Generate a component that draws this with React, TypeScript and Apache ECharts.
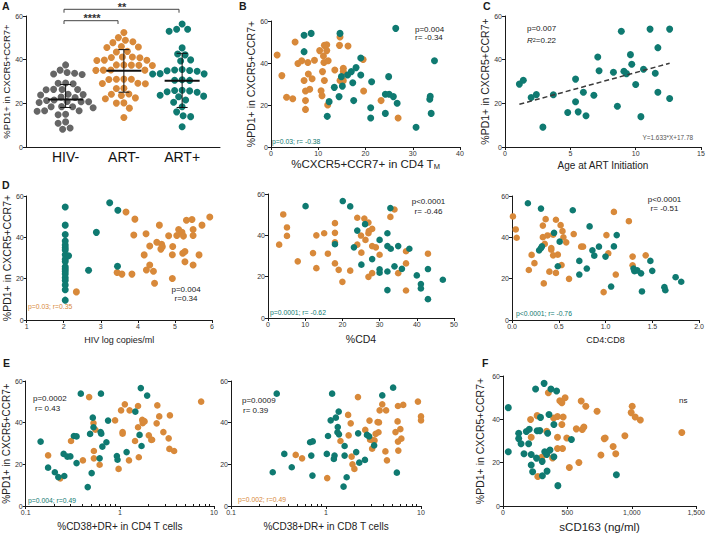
import React, { useEffect, useRef } from 'react';
import * as echarts from 'echarts';

const FONT = '"Liberation Sans", Arial, Helvetica, sans-serif';
const ORANGE = '#D8893A';
const TEAL = '#0F7A71';
const GRAY = '#666666';
const INK = '#1a1a1a';

// ---------- Panel A ----------
const groupLabels = ['HIV-', 'ART-', 'ART+'];
const hivNeg = [37.6, 35.2, 34.1, 33.4, 33.2, 33.8, 29.2, 29.0, 29.3, 26.3, 26.2, 26.4, 26.3, 24.0, 24.2, 23.8, 22.7, 22.9, 21.5, 20.7, 20.7, 20.4, 20.8, 21.3, 18.4, 18.5, 18.4, 18.0, 16.6, 16.6, 16.4, 15.0, 14.8, 10.9, 11.5, 8.1, 8.7];
const artNeg = [52.4, 50.1, 48.9, 48.2, 47.8, 45.8, 45.6, 46.0, 43.8, 43.5, 41.2, 40.9, 41.0, 41.2, 39.7, 39.8, 39.6, 37.6, 37.4, 37.5, 37.3, 37.6, 35.2, 35.3, 35.1, 35.2, 31.0, 31.1, 30.9, 31.0, 29.1, 29.2, 29.0, 26.9, 26.8, 24.3, 24.2, 23.6, 22.5, 22.1, 20.1, 20.2, 17.8, 13.5];
const artPos = [56.3, 53.9, 53.0, 53.9, 45.4, 42.6, 42.2, 39.9, 39.4, 35.5, 34.7, 35.3, 34.9, 35.0, 33.5, 33.4, 33.6, 30.5, 30.6, 30.8, 25.3, 25.1, 25.9, 25.7, 26.0, 23.3, 23.0, 23.7, 21.5, 20.5, 18.4, 16.1, 14.3, 13.9, 9.3];
// median, low, high
const groupStats = [[21.8, 18.1, 28.6], [34.9, 25.1, 44.6], [30.4, 18.1, 42.9]];

// ---------- Panel B ----------
const bOrange = [[1.3,43.8],[2.3,34.0],[3.3,23.7],[4.6,23.0],[5.1,50.0],[5.7,39.8],[6.5,41.1],[7.0,31.7],[7.3,26.7],[7.3,22.1],[7.3,17.9],[7.8,40.2],[7.9,34.8],[8.2,27.5],[8.7,32.5],[9.2,41.3],[10.3,45.9],[10.6,26.8],[10.8,24.4],[10.9,35.9],[11.1,43.3],[11.2,40.2],[11.3,31.7],[11.3,48.4],[11.8,48.7],[11.8,45.9],[12.0,20.0],[12.1,41.1],[13.5,36.7],[14.5,48.4],[14.6,52.4],[14.6,31.7],[15.1,31.6],[15.3,37.5],[15.3,35.9],[15.3,31.6],[16.3,48.1],[19.5,41.7],[19.6,26.7],[23.3,22.1],[26.9,13.8]];
const bTeal = [[7.0,53.2],[7.0,45.4],[8.5,54.1],[11.9,14.6],[12.3,21.6],[13.4,28.4],[14.4,24.0],[14.6,54.1],[14.9,33.5],[15.1,29.0],[16.2,34.3],[17.0,35.9],[17.3,30.6],[17.5,22.1],[18.0,37.8],[19.0,42.4],[19.0,34.3],[21.3,31.1],[21.1,18.7],[21.1,13.8],[24.2,16.0],[24.2,25.1],[25.0,25.1],[24.9,33.5],[25.9,24.0],[26.4,56.5],[26.7,20.8],[30.7,9.4],[33.6,22.7],[33.7,24.1],[33.9,16.0],[34.6,41.1]];

// ---------- Panel C ----------
const cTeal = [[1.1,28.8],[1.4,30.6],[2.0,22.7],[2.4,24.0],[2.9,9.1],[3.7,23.9],[4.8,15.8],[5.4,31.1],[5.4,20.7],[5.6,16.1],[6.0,25.1],[6.2,14.3],[6.8,23.7],[7.1,41.2],[7.2,34.9],[8.3,34.2],[8.6,18.7],[8.9,53.0],[9.1,34.7],[9.3,33.6],[9.6,42.3],[9.7,37.9],[10.0,28.6],[10.4,13.9],[10.6,35.6],[11.1,54.0],[11.5,33.8],[11.7,45.5],[11.7,25.1],[12.6,54.0],[12.6,22.2]];
const cFitSlope = 1.633;
const cFitIntercept = 17.78;
const cFitRange = [1.1, 12.6];

// ---------- Panel D ----------
const d1Teal = [[2.04,54.7],[2.04,45.9],[2.04,41.4],[2.04,38.2],[2.04,36.3],[2.04,35.0],[2.04,33.9],[2.04,31.6],[2.04,29.4],[2.04,28.3],[2.04,25.8],[2.04,24.7],[2.04,23.6],[2.04,22.3],[2.04,20.4],[2.04,19.1],[2.04,16.9],[2.04,14.6],[2.04,9.6],[2.13,31.1],[2.67,24.1],[2.88,42.4],[3.24,56.7],[3.46,53.1],[3.45,26.0]];
const d1Orange = [[2.34,13.6],[3.44,23.0],[3.57,22.2],[3.68,52.3],[3.84,22.2],[3.89,41.1],[3.92,48.8],[4.17,31.5],[4.22,41.7],[4.23,24.2],[4.32,26.6],[4.32,35.8],[4.42,23.6],[4.45,17.8],[4.51,37.6],[4.58,45.9],[4.62,34.3],[4.64,36.6],[4.66,35.5],[4.83,40.8],[4.94,35.6],[4.93,31.6],[4.93,20.1],[5.05,40.9],[5.10,43.8],[5.19,42.4],[5.23,40.6],[5.21,32.3],[5.27,33.1],[5.27,28.2],[5.31,48.3],[5.46,48.6],[5.49,43.8],[5.49,40.9],[5.49,26.6],[5.73,45.9],[5.65,31.5],[5.94,49.8]];
const d2Orange = [[3.0,35.5],[4.1,50.1],[5.1,43.8],[5.1,39.7],[8.0,27.4],[12.1,31.4],[13.0,40.0],[13.0,24.1],[15.1,41.0],[16.1,31.1],[18.0,45.9],[18.0,41.2],[18.0,36.6],[18.0,26.4],[19.0,23.3],[20.0,17.5],[22.1,22.9],[24.0,48.5],[24.0,35.5],[25.0,39.9],[25.1,31.6],[25.9,48.1],[26.2,37.8],[27.0,46.2],[27.0,41.0],[27.0,19.9],[27.1,42.1],[28.0,43.1],[28.0,34.8],[28.0,21.7],[29.0,34.2],[30.0,30.6],[32.9,48.9],[34.0,52.5],[35.0,21.7],[37.1,32.3],[37.1,26.4],[37.1,13.3],[43.0,31.1]];
const d2Teal = [[10.1,54.1],[18.0,35.7],[20.1,56.6],[22.1,54.0],[23.1,34.2],[24.0,42.3],[25.1,25.8],[26.1,45.4],[28.0,28.5],[30.0,37.8],[30.0,23.5],[30.0,21.9],[32.1,41.0],[32.1,34.8],[32.1,13.5],[32.1,22.5],[32.9,53.2],[33.0,33.5],[34.0,25.0],[35.0,34.8],[36.0,23.8],[38.0,33.5],[40.0,20.6],[41.1,16.4],[41.1,14.3],[43.0,23.7],[43.0,9.1],[47.0,18.5]];
const d3Orange = [[0.01,50.1],[0.04,43.8],[0.05,39.8],[0.18,24.2],[0.21,31.5],[0.24,27.5],[0.33,45.7],[0.33,40.1],[0.34,17.7],[0.35,36.8],[0.36,48.8],[0.38,40.9],[0.40,23.4],[0.42,34.8],[0.42,34.0],[0.44,41.3],[0.44,31.3],[0.47,48.5],[0.47,22.8],[0.49,31.6],[0.52,45.9],[0.53,26.6],[0.54,43.0],[0.55,40.0],[0.58,37.6],[0.61,19.9],[0.66,41.6],[0.74,35.5],[0.76,35.5],[0.98,13.5],[1.01,41.1],[1.03,32.3],[1.09,52.3],[1.11,22.0],[1.25,47.8],[1.29,30.7],[1.29,26.5],[1.43,31.3]];
const d3Teal = [[0.17,56.5],[0.31,53.9],[0.29,33.7],[0.31,34.8],[0.32,35.6],[0.45,42.2],[0.49,26.0],[0.51,37.9],[0.65,53.1],[0.72,28.6],[0.72,22.0],[0.80,24.9],[0.83,45.3],[0.86,33.7],[0.88,31.1],[0.93,35.5],[1.00,30.7],[1.06,16.2],[1.09,35.6],[1.12,41.1],[1.30,24.9],[1.31,23.6],[1.34,24.0],[1.38,22.6],[1.39,13.8],[1.48,28.6],[1.50,23.8],[1.63,15.9],[1.64,14.4],[1.75,20.7],[1.81,18.5]];

// ---------- Panel E ----------
const e1Teal = [[0.144,30.9],[0.173,18.4],[0.204,16.2],[0.222,13.9],[0.253,25.0],[0.257,14.4],[0.277,23.7],[0.298,23.8],[0.325,33.6],[0.347,33.4],[0.347,20.6],[0.385,53.9],[0.456,9.1],[0.483,34.6],[0.502,15.8],[0.516,42.4],[0.525,37.8],[0.61,22.9],[0.625,35.5],[0.63,53.9],[0.635,34.7],[0.652,28.5],[0.72,30.6],[0.75,41.0],[0.93,24.0],[0.945,22.2],[1.18,25.9],[1.46,45.3],[1.62,34.1],[1.67,56.6],[1.70,28.8],[1.95,53.0]];
const e1Orange = [[0.173,24.3],[0.233,13.3],[0.303,31.2],[0.405,21.9],[0.472,52.3],[0.525,39.8],[0.53,26.4],[0.53,22.9],[0.55,36.6],[0.61,19.8],[0.89,41.1],[0.97,17.8],[1.03,45.9],[1.07,35.5],[1.07,34.7],[1.13,48.8],[1.25,21.9],[1.27,45.9],[1.45,31.2],[1.59,23.4],[1.56,48.0],[1.56,37.8],[1.73,41.3],[1.75,39.8],[1.79,40.8],[1.83,40.6],[2.03,33.9],[2.16,31.7],[2.2,31.8],[2.46,39.7],[2.5,48.3],[2.62,43.0],[2.9,35.5],[3.3,32.5],[3.4,43.5],[3.36,27.4],[3.77,26.4],[7.3,50.1]];
const e2Teal = [[0.303,53.9],[0.275,16.2],[0.364,25.0],[0.436,18.6],[0.68,30.6],[0.725,31.0],[0.70,24.2],[0.72,14.6],[1.02,25.0],[1.05,33.6],[1.12,41.1],[1.16,53.9],[1.23,24.2],[1.21,22.6],[1.27,42.4],[1.32,35.4],[1.33,37.9],[1.36,45.3],[1.37,34.4],[1.57,28.8],[1.57,24.2],[1.65,13.8],[1.53,9.3],[2.08,25.9],[2.18,34.9],[2.24,20.8],[2.57,22.1],[2.70,34.1],[2.84,33.4],[3.21,29.1],[3.91,53.1],[5.09,56.8],[5.57,16.0]];
const e2Orange = [[0.48,24.5],[0.56,22.9],[1.03,13.4],[1.71,43.7],[1.82,39.7],[1.73,33.9],[1.42,31.2],[1.86,23.7],[1.90,20.0],[1.99,17.8],[2.17,52.3],[2.59,36.5],[2.87,41.0],[2.91,31.8],[3.03,31.7],[3.06,27.5],[3.24,31.5],[3.33,34.6],[3.49,40.3],[3.61,40.1],[3.57,35.4],[3.67,45.9],[3.91,48.8],[4.22,26.2],[4.29,45.9],[4.38,21.9],[5.39,35.5],[5.67,40.6],[5.72,48.0],[5.72,30.9],[5.77,26.6],[6.06,36.9],[6.21,32.3],[6.5,48.5],[9.28,50.1],[10.0,43.0],[10.0,41.1]];

// ---------- Panel F ----------
const fTeal = [[41,45.4],[41,25.0],[122,33.6],[122,31.1],[140,28.7],[163,24.1],[181,34.4],[199,28.7],[204,35.4],[219,23.8],[219,18.9],[230,15.8],[253,54.0],[260,22.1],[265,34.7],[286,34.8],[291,40.9],[304,20.6],[306,14.0],[324,25.0],[319,56.6],[339,23.8],[347,33.6],[342,16.1],[357,42.2],[365,25.8],[372,54.0],[395,37.6],[395,22.7],[416,53.1],[426,9.4],[531,30.7],[880,14.4]];
const fOrange = [[270,13.6],[214,39.9],[219,31.7],[265,41.7],[301,22.5],[339,34.5],[352,52.3],[393,40.6],[385,22.2],[423,41.3],[423,31.7],[423,26.5],[441,48.6],[457,47.7],[457,37.6],[462,26.5],[467,41.1],[482,50.0],[495,31.4],[515,17.8],[569,35.6],[589,20.1],[607,48.5],[615,35.3],[628,36.5],[643,46.0],[730,43.7],[760,23.5],[786,31.1],[793,31.4],[855,27.5],[875,24.1],[946,32.4],[995,43.1],[1003,46.0],[1026,41.1],[1066,39.7],[1388,33.9]];

const logMajor = [0.1, 1, 10];
const logMinor = [0.2, 0.3, 0.4, 0.5, 0.6, 0.7, 0.8, 0.9, 2, 3, 4, 5, 6, 7, 8, 9];

const Y_TITLE = '%PD1+ in CXCR5+CCR7+';

// grid layout (pixels)
const grids = [
  { left: 26, top: 16, width: 194, height: 131 },
  { left: 271, top: 21, width: 189, height: 126 },
  { left: 505, top: 16, width: 196, height: 131 },
  { left: 26, top: 196, width: 186, height: 124 },
  { left: 268, top: 194, width: 186, height: 124 },
  { left: 512, top: 196, width: 187, height: 124 },
  { left: 24, top: 381, width: 190, height: 125 },
  { left: 231, top: 381, width: 190, height: 125 },
  { left: 503, top: 376, width: 196, height: 130 },
];

const A_MIN = -0.68;
const A_MAX = 2.65;

function swarm(vals: number[], pxX: number, pxY: number, d: number): number[] {
  const order = vals.map((_, i) => i).sort((a, b) => vals[b] - vals[a]);
  const placed: [number, number][] = [];
  const res: number[] = new Array(vals.length).fill(0);
  const step = 0.5;
  for (const i of order) {
    const y = vals[i] * pxY;
    let chosen = 0;
    for (let k = 0; k < 600; k++) {
      const m = Math.ceil(k / 2) * step * (k % 2 === 0 ? 1 : -1);
      let ok = true;
      for (const [px, py] of placed) {
        const dx = px - m;
        const dy = py - y;
        if (dx * dx + dy * dy < d * d) { ok = false; break; }
      }
      if (ok) { chosen = m; break; }
    }
    placed.push([chosen, y]);
    res[i] = chosen / pxX;
  }
  return res;
}

function baseAxis(gridIndex: number) {
  return {
    gridIndex,
    axisLine: { show: true, onZero: false, lineStyle: { color: INK, width: 1 } },
    axisTick: { show: true, length: 3, lineStyle: { color: INK, width: 1 } },
    axisLabel: { fontSize: 7, color: '#333', margin: 3, fontFamily: FONT },
    splitLine: { show: false },
  };
}

function yAxis(gridIndex: number, name?: string, gap?: number, size?: number) {
  const b = baseAxis(gridIndex);
  return {
    ...b,
    type: 'value',
    min: 0,
    max: 60,
    interval: 20,
    name: name || '',
    nameLocation: 'middle',
    nameGap: gap || 10,
    nameTextStyle: { fontSize: size || 10, color: '#222', fontFamily: FONT },
  };
}

function xValAxis(gridIndex: number, min: number, max: number, interval: number, name: string, gap: number, size: number, fmt?: (v: number) => string, rich?: any) {
  const b = baseAxis(gridIndex);
  return {
    ...b,
    type: 'value',
    min, max, interval,
    axisLabel: { ...b.axisLabel, formatter: fmt },
    name,
    nameLocation: 'middle',
    nameGap: gap,
    nameTextStyle: { fontSize: size, color: '#222', fontFamily: FONT, rich },
  };
}

function xLogAxis(gridIndex: number, name: string, gap: number, size: number) {
  const b = baseAxis(gridIndex);
  return {
    ...b,
    type: 'log',
    logBase: 10,
    min: 0.1,
    max: 10,
    axisTick: { ...b.axisTick, customValues: logMajor },
    axisLabel: { ...b.axisLabel, customValues: logMajor, formatter: (v: number) => String(Math.round(v * 10) / 10) },
    name,
    nameLocation: 'middle',
    nameGap: gap,
    nameTextStyle: { fontSize: size, color: '#222', fontFamily: FONT },
  };
}

function xLogMinor(gridIndex: number) {
  return {
    gridIndex,
    type: 'log',
    logBase: 10,
    min: 0.1,
    max: 10,
    axisLine: { show: false },
    axisLabel: { show: false },
    splitLine: { show: false },
    axisTick: { show: true, length: 2, customValues: logMinor, lineStyle: { color: INK, width: 1 } },
  };
}

function scatter(i: number, data: number[][], color: string, size = 7) {
  return { type: 'scatter', xAxisIndex: i, yAxisIndex: i, data, symbolSize: size, itemStyle: { color, opacity: 1 }, z: 3 };
}

function txt(text: string, x: number, y: number, o: any = {}) {
  return {
    type: 'text', x, y, z: 100,
    style: {
      text, fill: o.fill || INK, fontSize: o.size || 8, fontFamily: FONT,
      fontWeight: o.bold ? 'bold' : 'normal', align: o.align || 'left',
      verticalAlign: o.va || 'middle', rich: o.rich,
    },
  };
}

function buildOption() {
  const aPxX = grids[0].width / (A_MAX - A_MIN);
  const aPxY = grids[0].height / 60;
  const groups = [hivNeg, artNeg, artPos];
  const groupColors = [GRAY, ORANGE, TEAL];
  const aSeries = groups.map((vals, gi) => {
    const off = swarm(vals, aPxX, aPxY, 7.4);
    return scatter(0, vals.map((v, i) => [gi + off[i], v]), groupColors[gi], 7);
  });

  const statSeries = {
    type: 'custom',
    xAxisIndex: 0, yAxisIndex: 0,
    z: 10,
    encode: { x: 0, y: 1 },
    data: groupStats.map((s, i) => [i, s[0], s[1], s[2]]),
    renderItem: (_p: any, api: any) => {
      const x = api.value(0);
      const pm = api.coord([x, api.value(1)]);
      const pl = api.coord([x, api.value(2)]);
      const ph = api.coord([x, api.value(3)]);
      const st1 = { stroke: '#111', lineWidth: 1 };
      return {
        type: 'group',
        children: [
          { type: 'line', shape: { x1: pl[0], y1: pl[1], x2: ph[0], y2: ph[1] }, style: st1 },
          { type: 'line', shape: { x1: pl[0] - 5.5, y1: pl[1], x2: pl[0] + 5.5, y2: pl[1] }, style: st1 },
          { type: 'line', shape: { x1: ph[0] - 5.5, y1: ph[1], x2: ph[0] + 5.5, y2: ph[1] }, style: st1 },
          { type: 'line', shape: { x1: pm[0] - 17.5, y1: pm[1], x2: pm[0] + 17.5, y2: pm[1] }, style: { stroke: '#111', lineWidth: 2 } },
        ],
      };
    },
  };

  const fitSeries = {
    type: 'line', xAxisIndex: 2, yAxisIndex: 2,
    data: cFitRange.map((x) => [x, cFitSlope * x + cFitIntercept]),
    showSymbol: false, symbol: 'none',
    lineStyle: { type: [5, 3], color: '#3a3a3a', width: 1.5 },
    z: 5,
  };

  const aX = {
    ...baseAxis(0),
    type: 'value', min: A_MIN, max: A_MAX,
    axisTick: { show: false },
    axisLabel: { customValues: [0, 1, 2], formatter: (v: number) => groupLabels[Math.round(v)], fontSize: 14, color: '#111', margin: 3, fontFamily: FONT },
  };

  const xAxes = [
    aX,
    xValAxis(1, 0, 40, 10, '%CXCR5+CCR7+ in CD4 T{sub|M}', 9, 11.5, undefined, { sub: { fontSize: 7.5, verticalAlign: 'bottom', padding: [6, 0, 0, 0], fontFamily: FONT, color: '#222' } }),
    xValAxis(2, 0, 15, 5, 'Age at ART Initiation', 13, 10),
    xValAxis(3, 1, 6, 1, 'HIV log copies/ml', 15, 9),
    xValAxis(4, 0, 50, 10, '%CD4', 15, 10.5),
    xValAxis(5, 0, 2, 0.5, 'CD4:CD8', 15.5, 9, (v: number) => v.toFixed(1)),
    xLogAxis(6, '%CD38+DR+ in CD4 T cells', 15, 10),
    xLogAxis(7, '%CD38+DR+ in CD8 T cells', 15, 10),
    xValAxis(8, 0, 1500, 500, 'sCD163 (ng/ml)', 15, 11.5),
    xLogMinor(6),
    xLogMinor(7),
  ];

  const yAxes = [
    yAxis(0, Y_TITLE, 13, 9.5),
    yAxis(1, Y_TITLE, 10.5, 10.5),
    yAxis(2, Y_TITLE, 10.5, 10.5),
    yAxis(3, Y_TITLE, 14.5, 10.5),
    yAxis(4),
    yAxis(5),
    yAxis(6, Y_TITLE, 11.5, 10),
    yAxis(7),
    yAxis(8, Y_TITLE, 18, 10.5),
  ];

  const series: any[] = [
    ...aSeries,
    statSeries,
    scatter(1, bOrange, ORANGE), scatter(1, bTeal, TEAL),
    scatter(2, cTeal, TEAL), fitSeries,
    scatter(3, d1Orange, ORANGE), scatter(3, d1Teal, TEAL),
    scatter(4, d2Orange, ORANGE, 6.6), scatter(4, d2Teal, TEAL, 6.6),
    scatter(5, d3Orange, ORANGE, 6.6), scatter(5, d3Teal, TEAL, 6.6),
    scatter(6, e1Orange, ORANGE, 6.6), scatter(6, e1Teal, TEAL, 6.6),
    scatter(7, e2Orange, ORANGE, 6.6), scatter(7, e2Teal, TEAL, 6.6),
    scatter(8, fOrange, ORANGE), scatter(8, fTeal, TEAL),
  ];

  const bracket = (pts: number[][]) => ({ type: 'polyline', z: 100, shape: { points: pts }, style: { stroke: '#444', lineWidth: 1, fill: null } });

  const graphic = [
    txt('A', 2, 0, { bold: true, size: 10.5, va: 'top' }),
    txt('B', 239, 0, { bold: true, size: 10.5, va: 'top' }),
    txt('C', 483, 0.5, { bold: true, size: 10.5, va: 'top' }),
    txt('D', 2, 179, { bold: true, size: 10.5, va: 'top' }),
    txt('E', 3, 357, { bold: true, size: 10.5, va: 'top' }),
    txt('F', 482, 357, { bold: true, size: 10.5, va: 'top' }),
    bracket([[64, 24], [64, 20.7], [118, 20.7], [118, 24]]),
    bracket([[64, 12.7], [64, 9.3], [179, 9.3], [179, 12.7]]),
    txt('****', 92, 12.5, { bold: true, size: 11, align: 'center', va: 'top', fill: '#333' }),
    txt('**', 122, 1.5, { bold: true, size: 11, align: 'center', va: 'top', fill: '#333' }),
    // B
    txt('p=0.004', 415, 29, { size: 8 }),
    txt('r= -0.34', 415, 37.5, { size: 8 }),
    txt('p=0.03; r= -0.38', 272, 141.7, { size: 6.8, fill: TEAL }),
    // C
    txt('p=0.007', 527, 28.3, { size: 8 }),
    txt('{i|R}{s|2}{n|=0.22}', 527, 40.7, { size: 8, rich: { i: { fontStyle: 'italic', fontSize: 8, fontFamily: FONT, fill: INK }, s: { fontSize: 5.5, verticalAlign: 'top', fontFamily: FONT, fill: INK }, n: { fontSize: 8, fontFamily: FONT, fill: INK } } }),
    txt('Y=1.633*X+17.78', 693, 137.7, { size: 6.4, fill: '#555', align: 'right' }),
    // D1
    txt('p=0.004', 186, 289, { size: 8, align: 'center' }),
    txt('r=0.34', 186, 298, { size: 8, align: 'center' }),
    txt('p=0.03; r=0.35', 28, 306, { size: 6.8, fill: ORANGE }),
    // D2
    txt('p<0.0001', 428.5, 201.7, { size: 8, align: 'center' }),
    txt('r= -0.46', 428.5, 211, { size: 8, align: 'center' }),
    txt('p=0.0001; r= -0.62', 270, 312, { size: 6.8, fill: TEAL }),
    // D3
    txt('p<0.0001', 664.5, 199, { size: 8, align: 'center' }),
    txt('r= -0.51', 664.5, 208.3, { size: 8, align: 'center' }),
    txt('p<0.0001; r= -0.76', 516, 313.7, { size: 6.8, fill: TEAL }),
    // E1
    txt('p=0.0002', 33, 398.3, { size: 8 }),
    txt('r= 0.43', 35, 408.3, { size: 8 }),
    txt('p=0.004; r=0.49', 28, 500, { size: 6.8, fill: TEAL }),
    // E2
    txt('p=0.0009', 242, 400.3, { size: 8 }),
    txt('r= 0.39', 243, 410, { size: 8 }),
    txt('p=0.002; r=0.49', 238, 499, { size: 6.8, fill: ORANGE }),
    // F
    txt('ns', 679, 400, { size: 8 }),
  ];

  return {
    animation: false,
    backgroundColor: '#ffffff',
    textStyle: { fontFamily: FONT },
    grid: grids.map((g) => ({ ...g, containLabel: false })),
    xAxis: xAxes,
    yAxis: yAxes,
    series,
    graphic,
  };
}

export default function App() {
  const ref = useRef<HTMLDivElement>(null);
  useEffect(() => {
    if (!ref.current) return;
    const chart = echarts.init(ref.current, undefined, { renderer: 'svg' });
    chart.setOption(buildOption() as any);
    return () => chart.dispose();
  }, []);
  return <div ref={ref} style={{ position: 'absolute', left: 0, top: 0, width: 708, height: 534, background: '#fff' }} />;
}
